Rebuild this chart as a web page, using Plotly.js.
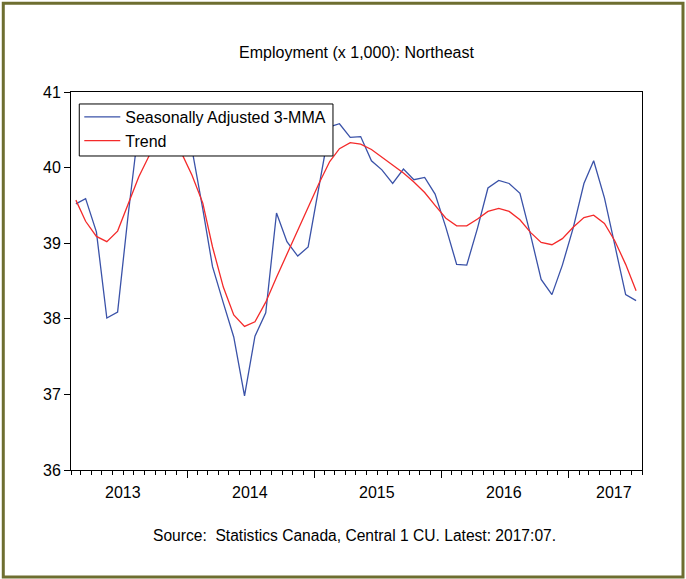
<!DOCTYPE html>
<html>
<head>
<meta charset="utf-8">
<script src="https://cdn.plot.ly/plotly-3.0.1.min.js"></script>
<style>
html, body { margin: 0; padding: 0; background: #ffffff; }
#chart { width: 686px; height: 579px; }
</style>
</head>
<body>
<div id="chart"></div>
<script>
// Monthly observations, 2013:02 to 2017:07 (plotted mid-month)
const months = [
  '2013-02-15','2013-03-15','2013-04-15','2013-05-15','2013-06-15','2013-07-15','2013-08-15','2013-09-15','2013-10-15','2013-11-15','2013-12-15',
  '2014-01-15','2014-02-15','2014-03-15','2014-04-15','2014-05-15','2014-06-15','2014-07-15','2014-08-15','2014-09-15','2014-10-15','2014-11-15','2014-12-15',
  '2015-01-15','2015-02-15','2015-03-15','2015-04-15','2015-05-15','2015-06-15','2015-07-15','2015-08-15','2015-09-15','2015-10-15','2015-11-15','2015-12-15',
  '2016-01-15','2016-02-15','2016-03-15','2016-04-15','2016-05-15','2016-06-15','2016-07-15','2016-08-15','2016-09-15','2016-10-15','2016-11-15','2016-12-15',
  '2017-01-15','2017-02-15','2017-03-15','2017-04-15','2017-05-15','2017-06-15','2017-07-15'
];

const seasonallyAdjusted3MMA = [
  39.52, 39.59, 39.15, 38.01, 38.09, 39.36, 40.55, 40.65, 40.50, 40.45, 40.55,
  40.24, 39.45, 38.69, 38.21, 37.76, 36.98, 37.77, 38.08, 39.40, 39.02, 38.83, 38.95,
  39.75, 40.54, 40.58, 40.40, 40.41, 40.09, 39.97, 39.79, 39.98, 39.84, 39.87, 39.65,
  39.21, 38.72, 38.71, 39.20, 39.73, 39.83, 39.79, 39.66, 39.10, 38.52, 38.32, 38.71,
  39.20, 39.79, 40.09, 39.60, 38.97, 38.32, 38.24
];

const trend = [
  39.57, 39.29, 39.09, 39.02, 39.16, 39.52, 39.88, 40.17, 40.32, 40.33, 40.20,
  39.90, 39.53, 38.95, 38.42, 38.05, 37.90, 37.96, 38.22, 38.55, 38.86, 39.18, 39.48,
  39.79, 40.08, 40.25, 40.33, 40.31, 40.24, 40.14, 40.04, 39.93, 39.81, 39.67, 39.50,
  39.33, 39.23, 39.23, 39.32, 39.42, 39.46, 39.42, 39.31, 39.14, 39.01, 38.98, 39.06,
  39.21, 39.34, 39.37, 39.26, 39.03, 38.72, 38.37
];

const yearLabels = ['2013', '2014', '2015', '2016', '2017'];
const yearLabelDates = ['2013-07-01', '2014-07-01', '2015-07-01', '2016-07-01', '2017-05-12'];
const yearStarts = ['2014-01-01', '2015-01-01', '2016-01-01', '2017-01-01'];
const yTicks = [36, 37, 38, 39, 40, 41];

const FONT = 'Liberation Sans, Arial, sans-serif';
const FS = 16;

const traces = [
  {
    x: months, y: seasonallyAdjusted3MMA, type: 'scatter', mode: 'lines',
    name: 'Seasonally Adjusted 3-MMA',
    line: { color: '#3a52a8', width: 1.3 }
  },
  {
    x: months, y: trend, type: 'scatter', mode: 'lines',
    name: 'Trend',
    line: { color: '#f42a2a', width: 1.3 }
  }
];

const annotations = yearLabels.map((t, i) => ({
  text: t, x: yearLabelDates[i], xref: 'x', y: 0, yref: 'paper',
  xanchor: 'center', yanchor: 'top', yshift: -12, showarrow: false,
  font: { family: FONT, size: FS, color: '#000' }
}));
annotations.push({
  text: 'Source:\u00a0 Statistics Canada, Central 1 CU. Latest: 2017:07.',
  xref: 'paper', yref: 'paper', x: 0.4965, y: -0.1746,
  xanchor: 'center', yanchor: 'middle', showarrow: false,
  font: { family: FONT, size: 15.6, color: '#000' }
});

const layout = {
  width: 686, height: 579,
  margin: { l: 71, r: 44, t: 92, b: 109 },
  paper_bgcolor: '#ffffff', plot_bgcolor: '#ffffff',
  font: { family: FONT, size: FS, color: '#000' },
  title: {
    text: 'Employment (x 1,000): Northeast',
    font: { family: FONT, size: FS, color: '#000' },
    xref: 'paper', x: 0.5, xanchor: 'center',
    yref: 'container', y: 0.91, yanchor: 'middle'
  },
  xaxis: {
    type: 'date',
    range: ['2013-02-01', '2017-08-01'],
    tickmode: 'array', tickvals: yearStarts,
    showticklabels: false,
    ticks: 'outside', ticklen: 7, tickwidth: 1, tickcolor: '#000',
    minor: { dtick: 'M1', tick0: '2013-01-01', ticks: 'outside', ticklen: 4, tickwidth: 1, tickcolor: '#000', showgrid: false },
    showgrid: false, zeroline: false,
    showline: true, linecolor: '#000', linewidth: 1, mirror: true,
    fixedrange: true
  },
  yaxis: {
    range: [36, 41],
    tickmode: 'array', tickvals: yTicks,
    ticks: 'outside', ticklen: 6, tickwidth: 1, tickcolor: '#000',
    tickfont: { family: FONT, size: FS, color: '#000' },
    showgrid: false, zeroline: false,
    showline: true, linecolor: '#000', linewidth: 1, mirror: true,
    fixedrange: true
  },
  showlegend: true,
  legend: {
    x: 0.0145, y: 0.9788, xanchor: 'left', yanchor: 'top',
    bgcolor: 'rgba(0,0,0,0)', bordercolor: 'rgba(0,0,0,0)', borderwidth: 0,
    font: { family: FONT, size: FS, color: '#000' },
    itemwidth: 36,
    tracegroupgap: 0
  },
  annotations: annotations,
  shapes: [
    {
      // legend box
      type: 'rect', xref: 'paper', yref: 'paper',
      x0: 0.0145, x1: 0.4588, y0: 0.8307, y1: 0.9683,
      line: { color: '#000', width: 1 }, fillcolor: '#ffffff', layer: 'above'
    },
    {
      // outer frame
      type: 'rect', xref: 'paper', yref: 'paper',
      x0: -0.1186, x1: 1.0718, y0: -0.2831, y1: 1.2347,
      line: { color: '#6e6e30', width: 3 }, fillcolor: 'rgba(0,0,0,0)', layer: 'above'
    }
  ]
};

Plotly.newPlot('chart', traces, layout, { displayModeBar: false, staticPlot: true });
</script>
</body>
</html>
